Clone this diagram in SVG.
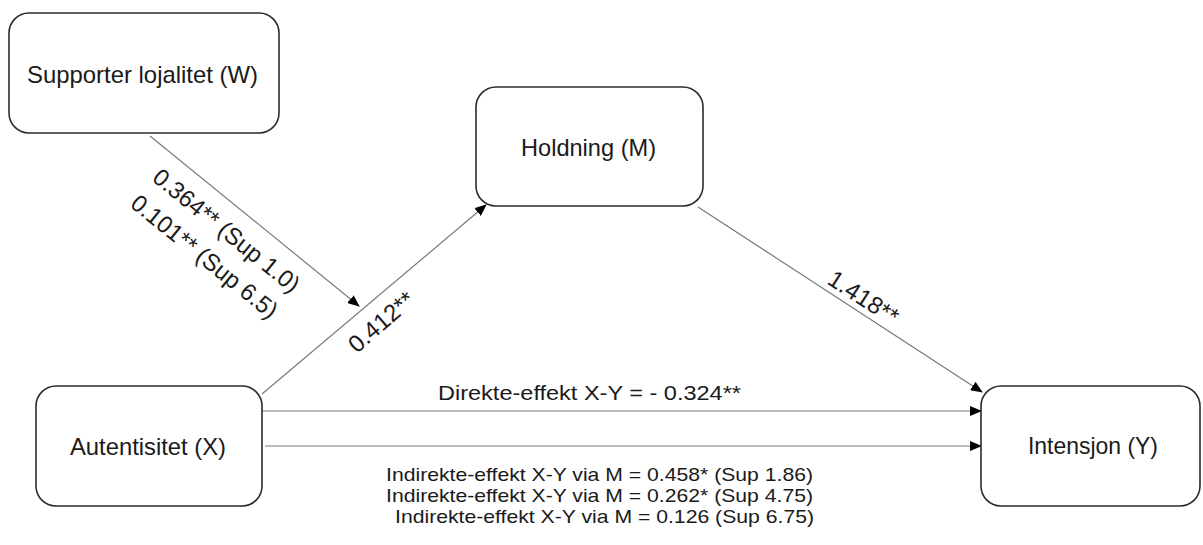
<svg xmlns="http://www.w3.org/2000/svg" width="1203" height="545" viewBox="0 0 1203 545">
  <style>
    .box { fill: #ffffff; stroke: #2b2b2b; stroke-width: 1.6; }
    .lbl { font-family: "Liberation Sans", Arial, sans-serif; font-size: 24px; fill: #1a1a1a; }
    .eff { font-size: 20px; }
    .ind { font-size: 18.5px; }
    .mid { text-anchor: middle; }
    .edge { stroke: #7a7a7a; stroke-width: 1.2; fill: none; marker-end: url(#arrow); }
  </style>
  <defs>
    <marker id="arrow" markerUnits="userSpaceOnUse" markerWidth="12" markerHeight="10" refX="11" refY="5" orient="auto">
      <path d="M0,0 L12,5 L0,10 Z" fill="#000000"/>
    </marker>
  </defs>

  <rect width="1203" height="545" fill="#ffffff"/>

  <!-- connectors -->
  <g id="connectors">
    <line class="edge" x1="150" y1="136" x2="359" y2="306"/>
    <line class="edge" x1="262" y1="394" x2="486" y2="205"/>
    <line class="edge" x1="698" y1="207" x2="982" y2="392"/>
    <line class="edge" x1="262" y1="411" x2="981" y2="411"/>
    <line class="edge" x1="265" y1="446" x2="981" y2="446"/>

    <text class="lbl" transform="translate(151,180) rotate(39)" textLength="181" lengthAdjust="spacingAndGlyphs">0.364** (Sup 1.0)</text>
    <text class="lbl" transform="translate(129,206) rotate(39)" textLength="181" lengthAdjust="spacingAndGlyphs">0.101** (Sup 6.5)</text>
    <text class="lbl" transform="translate(357,354) rotate(-41)">0.412**</text>
    <text class="lbl" transform="translate(826,283) rotate(33)">1.418**</text>
    <text class="lbl eff mid" x="589.5" y="400" textLength="303" lengthAdjust="spacingAndGlyphs">Direkte-effekt X-Y = - 0.324**</text>
    <text class="lbl ind mid" x="599.5" y="481" textLength="427" lengthAdjust="spacingAndGlyphs">Indirekte-effekt X-Y via M = 0.458* (Sup 1.86)</text>
    <text class="lbl ind mid" x="599.5" y="502" textLength="427" lengthAdjust="spacingAndGlyphs">Indirekte-effekt X-Y via M = 0.262* (Sup 4.75)</text>
    <text class="lbl ind mid" x="604.5" y="523" textLength="419" lengthAdjust="spacingAndGlyphs">Indirekte-effekt X-Y via M = 0.126 (Sup 6.75)</text>
  </g>

  <!-- nodes -->
  <g id="node-W">
    <rect class="box" x="9" y="13" width="270" height="120" rx="20" ry="20"/>
    <text class="lbl mid" x="142.5" y="83" textLength="231" lengthAdjust="spacingAndGlyphs">Supporter lojalitet (W)</text>
  </g>
  <g id="node-M">
    <rect class="box" x="476" y="87" width="227" height="119" rx="20" ry="20"/>
    <text class="lbl mid" x="588.5" y="156" textLength="135" lengthAdjust="spacingAndGlyphs">Holdning (M)</text>
  </g>
  <g id="node-X">
    <rect class="box" x="36" y="386" width="226" height="120" rx="20" ry="20"/>
    <text class="lbl mid" x="148" y="455" textLength="156" lengthAdjust="spacingAndGlyphs">Autentisitet (X)</text>
  </g>
  <g id="node-Y">
    <rect class="box" x="981" y="386" width="219" height="120" rx="20" ry="20"/>
    <text class="lbl mid" x="1093" y="454" textLength="130" lengthAdjust="spacingAndGlyphs">Intensjon (Y)</text>
  </g>
</svg>
